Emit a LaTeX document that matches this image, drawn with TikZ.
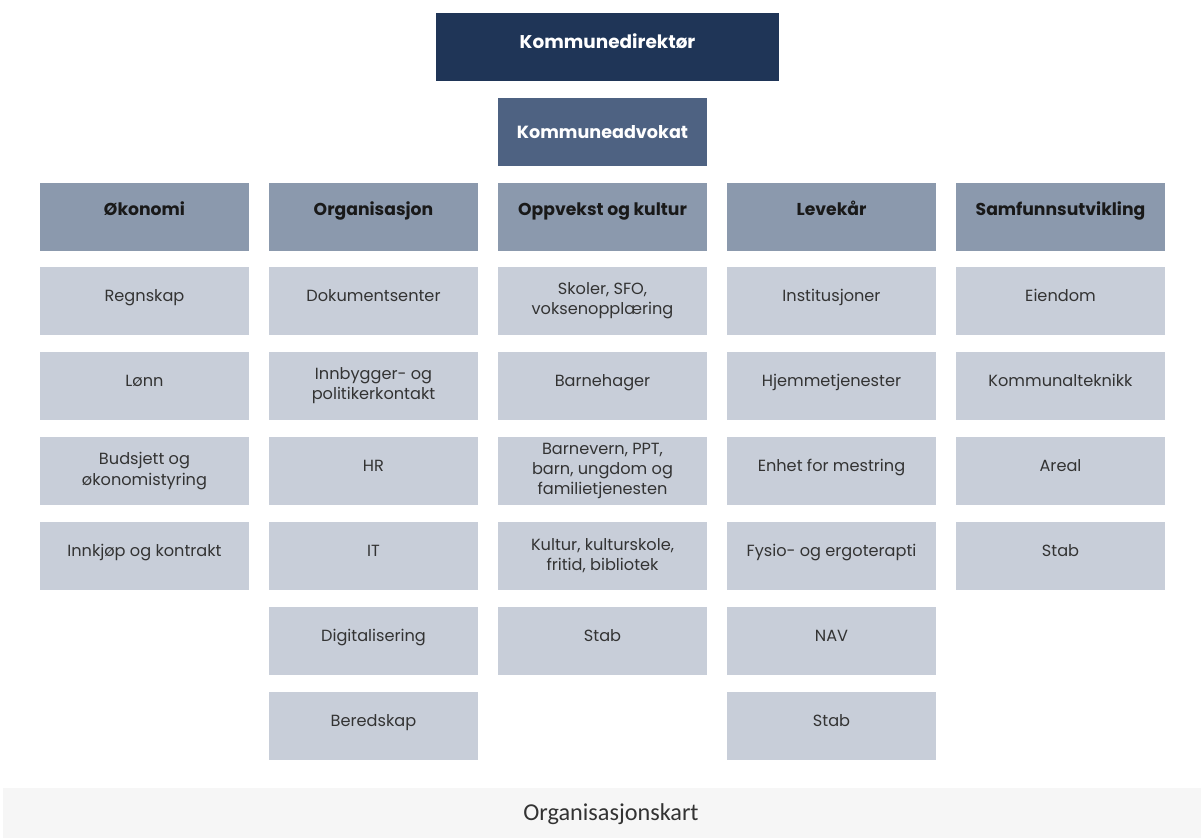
\documentclass[tikz,border=0pt]{standalone}
\usepackage{fontspec}
\setmainfont{Poppins}
\newfontfamily\capfont{Carlito}
\definecolor{navy}{HTML}{1F3557}
\definecolor{slate}{HTML}{4E6282}
\definecolor{headgray}{HTML}{8B99AD}
\definecolor{cellgray}{HTML}{C8CED9}
\definecolor{capgray}{HTML}{F6F6F6}
\definecolor{txtgray}{HTML}{333333}

\begin{document}
\begin{tikzpicture}[x=0.02cm,y=-0.02cm,
  box/.style={inner sep=0pt,minimum width=4.18cm,minimum height=1.36cm,align=center,
    font=\fontsize{9.2}{11.5}\selectfont},
  top/.style={box,fill=navy,text=white,font=\fontsize{10}{12}\selectfont\bfseries},
  head/.style={box,fill=headgray,text=black!90,font=\fontsize{9.8}{12}\selectfont\bfseries,
    text height=7pt,text depth=8.5pt},
  cell/.style={box,fill=cellgray,text=txtgray},
  one/.style={cell,text height=7pt,text depth=7pt}]
  \useasboundingbox (0,0) rectangle (1201,838);

  % top
  \node[top,minimum width=6.86cm,font=\fontsize{10.5}{12}\selectfont\bfseries,
    text height=7pt,text depth=5.8pt] (dir) at (607.5,47) {Kommunedirektør};
  \node[top,fill=slate] (adv) at (602.5,132) {Kommuneadvokat};

  % column heads
  \node[head] (oko) at (144.5,217) {Økonomi};
  \node[head] (org) at (373.5,217) {Organisasjon};
  \node[head] (opp) at (602.5,217) {Oppvekst og kultur};
  \node[head] (lev) at (831.5,217) {Levekår};
  \node[head] (sam) at (1060.5,217) {Samfunnsutvikling};

  % Økonomi
  \node[one] (oko1) at (144.5,301) {Regnskap};
  \node[one] (oko2) at (144.5,386) {Lønn};
  \node[cell] (oko3) at (144.5,471) {Budsjett og\\økonomistyring};
  \node[one] (oko4) at (144.5,556) {Innkjøp og kontrakt};

  % Organisasjon
  \node[one] (org1) at (373.5,301) {Dokumentsenter};
  \node[cell] (org2) at (373.5,386) {Innbygger- og\\politikerkontakt};
  \node[one] (org3) at (373.5,471) {HR};
  \node[one] (org4) at (373.5,556) {IT};
  \node[one] (org5) at (373.5,641) {Digitalisering};
  \node[one] (org6) at (373.5,726) {Beredskap};

  % Oppvekst og kultur
  \node[cell] (opp1) at (602.5,301) {Skoler, SFO,\\voksenopplæring};
  \node[one] (opp2) at (602.5,386) {Barnehager};
  \node[cell] (opp3) at (602.5,471) {Barnevern, PPT,\\barn, ungdom og\\familietjenesten};
  \node[cell] (opp4) at (602.5,556) {Kultur, kulturskole,\\fritid, bibliotek};
  \node[one] (opp5) at (602.5,641) {Stab};

  % Levekår
  \node[one] (lev1) at (831.5,301) {Institusjoner};
  \node[one] (lev2) at (831.5,386) {Hjemmetjenester};
  \node[one] (lev3) at (831.5,471) {Enhet for mestring};
  \node[one] (lev4) at (831.5,556) {Fysio- og ergoterapti};
  \node[one] (lev5) at (831.5,641) {NAV};
  \node[one] (lev6) at (831.5,726) {Stab};

  % Samfunnsutvikling
  \node[one] (sam1) at (1060.5,301) {Eiendom};
  \node[one] (sam2) at (1060.5,386) {Kommunalteknikk};
  \node[one] (sam3) at (1060.5,471) {Areal};
  \node[one] (sam4) at (1060.5,556) {Stab};

  % caption
  \fill[capgray] (3,788) rectangle (1201,838);
  \node[font=\capfont\fontsize{13.8}{15}\selectfont,text=txtgray] (cap) at (611,814) {Organisasjonskart};
\end{tikzpicture}
\end{document}
